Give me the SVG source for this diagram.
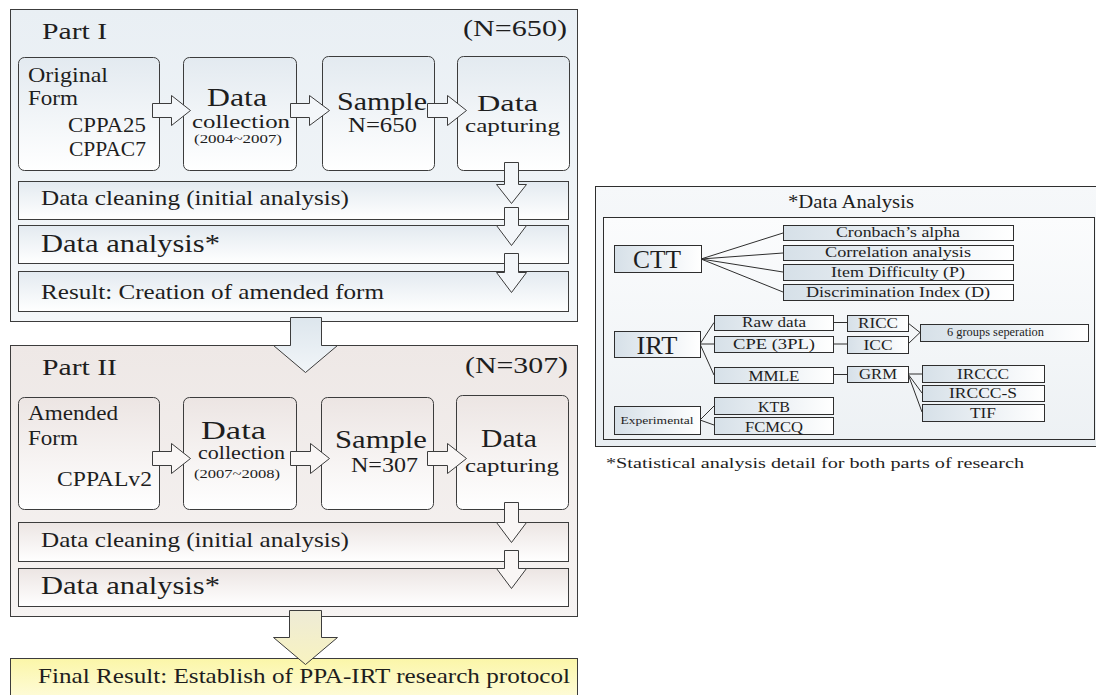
<svg xmlns="http://www.w3.org/2000/svg" width="1096" height="695" viewBox="0 0 1096 695">
  <defs>
    <linearGradient id="gPart1" x1="0" y1="0" x2="0" y2="1">
      <stop offset="0" stop-color="#e9eff4"/>
      <stop offset="1" stop-color="#f4f7f9"/>
    </linearGradient>
    <linearGradient id="gPart2" x1="0" y1="0" x2="0" y2="1">
      <stop offset="0" stop-color="#eee8e6"/>
      <stop offset="1" stop-color="#f6f3f2"/>
    </linearGradient>
    <linearGradient id="gBox1" x1="0" y1="0" x2="0" y2="1">
      <stop offset="0" stop-color="#e3eaf0"/>
      <stop offset="1" stop-color="#ffffff"/>
    </linearGradient>
    <linearGradient id="gBox2" x1="0" y1="0" x2="0" y2="1">
      <stop offset="0" stop-color="#ece5e3"/>
      <stop offset="1" stop-color="#ffffff"/>
    </linearGradient>
    <linearGradient id="gArrowBlue" x1="0" y1="0" x2="0" y2="1">
      <stop offset="0" stop-color="#dde6ed"/>
      <stop offset="1" stop-color="#f1f5f8"/>
    </linearGradient>
    <linearGradient id="gArrowYellow" x1="0" y1="0" x2="0" y2="1">
      <stop offset="0" stop-color="#eeebd6"/>
      <stop offset="1" stop-color="#f8f3c0"/>
    </linearGradient>
    <linearGradient id="gFinal" x1="0" y1="0" x2="0" y2="1">
      <stop offset="0" stop-color="#fbf6a8"/>
      <stop offset="1" stop-color="#fffde6"/>
    </linearGradient>
    <linearGradient id="gPanel" x1="0" y1="0" x2="0" y2="1">
      <stop offset="0" stop-color="#f6f8fa"/>
      <stop offset="1" stop-color="#e9eef2"/>
    </linearGradient>
    <linearGradient id="gInner" x1="0" y1="0" x2="0" y2="1">
      <stop offset="0" stop-color="#fbfcfd"/>
      <stop offset="1" stop-color="#edf1f4"/>
    </linearGradient>
    <linearGradient id="gLeaf" x1="0" y1="0" x2="1" y2="0">
      <stop offset="0" stop-color="#d6e0e8"/>
      <stop offset="1" stop-color="#ffffff"/>
    </linearGradient>
    <style>
      .frame { stroke: #3c3c3c; stroke-width: 1; }
      .part1 { fill: url(#gPart1); }
      .part2 { fill: url(#gPart2); }
      .box1 { fill: url(#gBox1); }
      .box2 { fill: url(#gBox2); }
      .leaf { fill: url(#gLeaf); stroke: #2e2e2e; stroke-width: 1; }
      .panel { fill: url(#gPanel); stroke: #2e2e2e; stroke-width: 1; }
      .inner { fill: url(#gInner); stroke: #2e2e2e; stroke-width: 1; }
      .arr1 { fill: #f3f6f9; stroke: #3c3c3c; stroke-width: 1; }
      .arr2 { fill: #f9f6f5; stroke: #3c3c3c; stroke-width: 1; }
      .link { fill: none; stroke: #2e2e2e; stroke-width: 1; }
      .t { font-family: "Liberation Serif", "Times New Roman", "DejaVu Serif", serif; fill: #1e1e1e; }
      .mid { text-anchor: middle; }
    </style>
  </defs>

  <!-- Part I -->
  <g id="part1">
    <rect class="frame part1" x="10.5" y="9.5" width="567" height="312"/>
    <text class="t" x="42" y="39" font-size="24" textLength="65" lengthAdjust="spacingAndGlyphs">Part I</text>
    <text class="t" x="463" y="36" font-size="24" textLength="104" lengthAdjust="spacingAndGlyphs">(N=650)</text>
  </g>
  <g id="p1-original-form">
    <rect class="frame box1" x="18.5" y="57.5" width="141" height="113" rx="6"/>
    <text class="t" x="28" y="82" font-size="22" textLength="80" lengthAdjust="spacingAndGlyphs">Original</text>
    <text class="t" x="28" y="105" font-size="22" textLength="50" lengthAdjust="spacingAndGlyphs">Form</text>
    <text class="t" x="68" y="132" font-size="21" textLength="78" lengthAdjust="spacingAndGlyphs">CPPA25</text>
    <text class="t" x="69" y="156" font-size="21" textLength="77" lengthAdjust="spacingAndGlyphs">CPPAC7</text>
  </g>
  <g id="p1-data-collection">
    <rect class="frame box1" x="183.5" y="57.5" width="113" height="113" rx="6"/>
    <text class="t" x="207" y="106" font-size="25" textLength="60" lengthAdjust="spacingAndGlyphs">Data</text>
    <text class="t" x="192" y="128" font-size="19" textLength="98" lengthAdjust="spacingAndGlyphs">collection</text>
    <text class="t" x="194" y="143" font-size="12" textLength="88" lengthAdjust="spacingAndGlyphs">(2004~2007)</text>
  </g>
  <g id="p1-sample">
    <rect class="frame box1" x="322.5" y="56.5" width="112" height="114" rx="6"/>
    <text class="t" x="337" y="110" font-size="25" textLength="90" lengthAdjust="spacingAndGlyphs">Sample</text>
    <text class="t" x="348" y="132" font-size="21" textLength="69" lengthAdjust="spacingAndGlyphs">N=650</text>
  </g>
  <g id="p1-data-capturing">
    <rect class="frame box1" x="457.5" y="56.5" width="112" height="114" rx="6"/>
    <text class="t" x="477" y="111" font-size="24" textLength="61" lengthAdjust="spacingAndGlyphs">Data</text>
    <text class="t" x="465" y="132" font-size="18" textLength="95" lengthAdjust="spacingAndGlyphs">capturing</text>
  </g>
  <g id="p1-data-cleaning">
    <rect class="frame box1" x="18.5" y="181.5" width="550" height="38"/>
    <text class="t" x="41" y="205" font-size="21" textLength="308" lengthAdjust="spacingAndGlyphs">Data cleaning (initial analysis)</text>
  </g>
  <g id="p1-data-analysis">
    <rect class="frame box1" x="18.5" y="225.5" width="550" height="38"/>
    <text class="t" x="41" y="252" font-size="26" textLength="179" lengthAdjust="spacingAndGlyphs">Data analysis*</text>
  </g>
  <g id="p1-result">
    <rect class="frame box1" x="18.5" y="271.5" width="550" height="40"/>
    <text class="t" x="41" y="299" font-size="21" textLength="343" lengthAdjust="spacingAndGlyphs">Result: Creation of amended form</text>
  </g>

  <!-- Part II -->
  <g id="part2">
    <rect class="frame part2" x="10.5" y="345.5" width="567" height="271"/>
    <text class="t" x="42" y="375" font-size="24" textLength="75" lengthAdjust="spacingAndGlyphs">Part II</text>
    <text class="t" x="465" y="373" font-size="24" textLength="103" lengthAdjust="spacingAndGlyphs">(N=307)</text>
  </g>
  <g id="p2-amended-form">
    <rect class="frame box2" x="18.5" y="397.5" width="141" height="112" rx="6"/>
    <text class="t" x="28" y="420" font-size="22" textLength="90" lengthAdjust="spacingAndGlyphs">Amended</text>
    <text class="t" x="28" y="445" font-size="22" textLength="50" lengthAdjust="spacingAndGlyphs">Form</text>
    <text class="t" x="57" y="486" font-size="22" textLength="95" lengthAdjust="spacingAndGlyphs">CPPALv2</text>
  </g>
  <g id="p2-data-collection">
    <rect class="frame box2" x="183.5" y="397.5" width="113" height="112" rx="6"/>
    <text class="t" x="201" y="439" font-size="25" textLength="65" lengthAdjust="spacingAndGlyphs">Data</text>
    <text class="t" x="198" y="459" font-size="19" textLength="87" lengthAdjust="spacingAndGlyphs">collection</text>
    <text class="t" x="194" y="478" font-size="12" textLength="86" lengthAdjust="spacingAndGlyphs">(2007~2008)</text>
  </g>
  <g id="p2-sample">
    <rect class="frame box2" x="321.5" y="397.5" width="112" height="112" rx="6"/>
    <text class="t" x="335" y="448" font-size="25" textLength="92" lengthAdjust="spacingAndGlyphs">Sample</text>
    <text class="t" x="351" y="472" font-size="21" textLength="67" lengthAdjust="spacingAndGlyphs">N=307</text>
  </g>
  <g id="p2-data-capturing">
    <rect class="frame box2" x="456.5" y="395.5" width="112" height="114" rx="6"/>
    <text class="t" x="481" y="447" font-size="25" textLength="56" lengthAdjust="spacingAndGlyphs">Data</text>
    <text class="t" x="465" y="472" font-size="19" textLength="94" lengthAdjust="spacingAndGlyphs">capturing</text>
  </g>
  <g id="p2-data-cleaning">
    <rect class="frame box2" x="18.5" y="522.5" width="550" height="39"/>
    <text class="t" x="41" y="547" font-size="21" textLength="308" lengthAdjust="spacingAndGlyphs">Data cleaning (initial analysis)</text>
  </g>
  <g id="p2-data-analysis">
    <rect class="frame box2" x="18.5" y="568.5" width="550" height="38"/>
    <text class="t" x="41" y="594" font-size="26" textLength="179" lengthAdjust="spacingAndGlyphs">Data analysis*</text>
  </g>

  <!-- Final result -->
  <g id="final-result">
    <rect class="frame" fill="url(#gFinal)" x="10.5" y="658.5" width="567" height="50"/>
    <text class="t" x="38" y="683" font-size="21" textLength="532" lengthAdjust="spacingAndGlyphs">Final Result: Establish of PPA-IRT research protocol</text>
  </g>

  <!-- Block arrows of the workflow -->
  <g id="flow-arrows">
    <!-- Part I, left to right -->
    <path class="arr1" d="M152.5,103.5 H171.5 V95.5 L190.5,110.5 L171.5,125.5 V117.5 H152.5 Z"/>
    <path class="arr1" d="M290.5,103.5 H309.5 V95.5 L329.5,110.5 L309.5,125.5 V117.5 H290.5 Z"/>
    <path class="arr1" d="M427.5,103.5 H447.5 V95.5 L466.5,110.5 L447.5,125.5 V117.5 H427.5 Z"/>
    <!-- Part I, downwards -->
    <path class="arr1" d="M504.5,162.5 V184.5 H496.5 L511.5,203.5 L526.5,184.5 H518.5 V162.5 Z"/>
    <path class="arr1" d="M504.5,207.5 V225.5 H496.5 L511.5,245.5 L526.5,225.5 H518.5 V207.5 Z"/>
    <path class="arr1" d="M504.5,253.5 V272.5 H496.5 L511.5,292.5 L526.5,272.5 H518.5 V253.5 Z"/>
    <!-- Part I to Part II -->
    <path class="frame" fill="url(#gArrowBlue)" d="M290.5,317.5 V345.5 H273.5 L305.5,372.5 L337.5,345.5 H321.5 V317.5 Z"/>
    <!-- Part II, left to right -->
    <path class="arr2" d="M152.5,451.5 H171.5 V443.5 L190.5,458.5 L171.5,473.5 V465.5 H152.5 Z"/>
    <path class="arr2" d="M290.5,451.5 H310.5 V443.5 L329.5,458.5 L310.5,473.5 V465.5 H290.5 Z"/>
    <path class="arr2" d="M427.5,451.5 H447.5 V443.5 L466.5,458.5 L447.5,473.5 V465.5 H427.5 Z"/>
    <!-- Part II, downwards -->
    <path class="arr2" d="M504.5,502.5 V522.5 H496.5 L511.5,542.5 L526.5,522.5 H518.5 V502.5 Z"/>
    <path class="arr2" d="M504.5,550.5 V568.5 H496.5 L511.5,588.5 L526.5,568.5 H518.5 V550.5 Z"/>
    <!-- Part II to final result -->
    <path class="frame" fill="url(#gArrowYellow)" d="M289.5,610.5 V637.5 H273.5 L305.5,664.5 L337.5,637.5 H321.5 V610.5 Z"/>
  </g>

  <!-- Data analysis panel -->
  <g id="analysis-panel">
    <rect class="panel" x="595.5" y="186.5" width="510" height="260"/>
    <text class="t" x="788" y="208" font-size="18" textLength="126" lengthAdjust="spacingAndGlyphs">*Data Analysis</text>
    <rect class="inner" x="603.5" y="217.5" width="491" height="222"/>
  </g>

  <g id="analysis-links">
    <path class="link" d="M701,259 L783,233 M701,259 L783,253 M701,259 L783,272 M701,259 L783,292"/>
    <path class="link" d="M700,344 L714,322.5 M700,344 H714 M700,344 L714,375"/>
    <path class="link" d="M833,322.5 H847 M833,344 H847 M833,374.5 H847"/>
    <path class="link" d="M908,323 L920,332.5 M908,344 L920,332.5"/>
    <path class="link" d="M908,374 H922 M908,374 L922,393 M908,374 L922,412"/>
    <path class="link" d="M700,420 L714,406 M700,420 L714,425"/>
  </g>

  <g id="ctt">
    <rect class="leaf" x="614.5" y="245.5" width="87" height="27"/>
    <text class="t mid" x="657" y="268" font-size="26" textLength="48" lengthAdjust="spacingAndGlyphs">CTT</text>
  </g>
  <g id="ctt-cronbach">
    <rect class="leaf" x="783.5" y="225.5" width="230" height="15"/>
    <text class="t mid" x="898" y="237" font-size="15" textLength="124" lengthAdjust="spacingAndGlyphs">Cronbach’s alpha</text>
  </g>
  <g id="ctt-correlation">
    <rect class="leaf" x="783.5" y="245.5" width="230" height="15"/>
    <text class="t mid" x="898" y="257" font-size="15" textLength="146" lengthAdjust="spacingAndGlyphs">Correlation analysis</text>
  </g>
  <g id="ctt-difficulty">
    <rect class="leaf" x="783.5" y="264.5" width="230" height="16"/>
    <text class="t mid" x="898" y="277" font-size="15" textLength="134" lengthAdjust="spacingAndGlyphs">Item Difficulty (P)</text>
  </g>
  <g id="ctt-discrimination">
    <rect class="leaf" x="783.5" y="284.5" width="230" height="16"/>
    <text class="t mid" x="898" y="297" font-size="15" textLength="184" lengthAdjust="spacingAndGlyphs">Discrimination Index (D)</text>
  </g>

  <g id="irt">
    <rect class="leaf" x="614.5" y="331.5" width="86" height="26"/>
    <text class="t mid" x="657" y="354" font-size="26" textLength="41" lengthAdjust="spacingAndGlyphs">IRT</text>
  </g>
  <g id="irt-raw-data">
    <rect class="leaf" x="714.5" y="315.5" width="119" height="15"/>
    <text class="t mid" x="774" y="327" font-size="15" textLength="64" lengthAdjust="spacingAndGlyphs">Raw data</text>
  </g>
  <g id="irt-cpe">
    <rect class="leaf" x="714.5" y="336.5" width="119" height="16"/>
    <text class="t mid" x="774" y="349" font-size="15" textLength="82" lengthAdjust="spacingAndGlyphs">CPE (3PL)</text>
  </g>
  <g id="irt-mmle">
    <rect class="leaf" x="714.5" y="367.5" width="119" height="16"/>
    <text class="t mid" x="774" y="381" font-size="15" textLength="51" lengthAdjust="spacingAndGlyphs">MMLE</text>
  </g>
  <g id="irt-ricc">
    <rect class="leaf" x="847.5" y="315.5" width="61" height="16"/>
    <text class="t mid" x="878" y="328" font-size="15" textLength="40" lengthAdjust="spacingAndGlyphs">RICC</text>
  </g>
  <g id="irt-icc">
    <rect class="leaf" x="847.5" y="336.5" width="61" height="17"/>
    <text class="t mid" x="878" y="350" font-size="15" textLength="29" lengthAdjust="spacingAndGlyphs">ICC</text>
  </g>
  <g id="irt-grm">
    <rect class="leaf" x="847.5" y="366.5" width="61" height="16"/>
    <text class="t mid" x="878" y="379" font-size="15" textLength="38" lengthAdjust="spacingAndGlyphs">GRM</text>
  </g>
  <g id="irt-groups">
    <rect class="leaf" x="920.5" y="324.5" width="168" height="17"/>
    <text class="t" x="947" y="336" font-size="12" textLength="97" lengthAdjust="spacingAndGlyphs">6 groups seperation</text>
  </g>
  <g id="irt-irccc">
    <rect class="leaf" x="922.5" y="365.5" width="122" height="17"/>
    <text class="t mid" x="983" y="379" font-size="15" textLength="52" lengthAdjust="spacingAndGlyphs">IRCCC</text>
  </g>
  <g id="irt-irccc-s">
    <rect class="leaf" x="922.5" y="385.5" width="122" height="16"/>
    <text class="t mid" x="983" y="398" font-size="15" textLength="68" lengthAdjust="spacingAndGlyphs">IRCCC-S</text>
  </g>
  <g id="irt-tif">
    <rect class="leaf" x="922.5" y="404.5" width="122" height="17"/>
    <text class="t mid" x="983" y="418" font-size="15" textLength="26" lengthAdjust="spacingAndGlyphs">TIF</text>
  </g>

  <g id="experimental">
    <rect class="leaf" x="614.5" y="406.5" width="86" height="28"/>
    <text class="t mid" x="657" y="424" font-size="11" textLength="73" lengthAdjust="spacingAndGlyphs">Experimental</text>
  </g>
  <g id="exp-ktb">
    <rect class="leaf" x="714.5" y="397.5" width="119" height="17"/>
    <text class="t mid" x="774" y="412" font-size="15" textLength="32" lengthAdjust="spacingAndGlyphs">KTB</text>
  </g>
  <g id="exp-fcmcq">
    <rect class="leaf" x="714.5" y="417.5" width="119" height="17"/>
    <text class="t mid" x="774" y="432" font-size="15" textLength="58" lengthAdjust="spacingAndGlyphs">FCMCQ</text>
  </g>

  <g id="analysis-note">
    <text class="t" x="606" y="468" font-size="15" textLength="418" lengthAdjust="spacingAndGlyphs">*Statistical analysis detail for both parts of research</text>
  </g>
</svg>
